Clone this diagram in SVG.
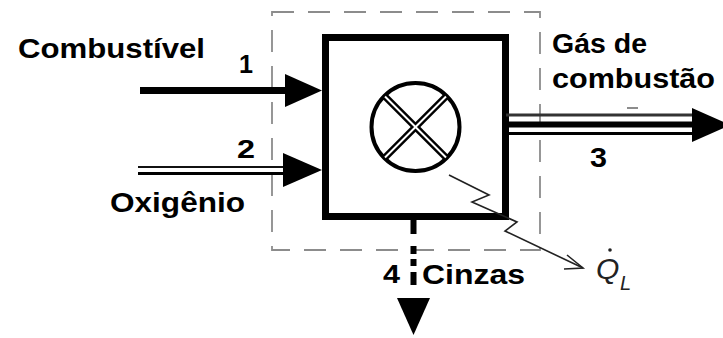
<svg xmlns="http://www.w3.org/2000/svg" width="723" height="338" viewBox="0 0 723 338">
<style>
.lbl{font-family:"Liberation Sans",Arial,sans-serif;font-weight:bold;font-size:28px;fill:#000}
.num{font-family:"Liberation Sans",Arial,sans-serif;font-weight:bold;font-size:26px;fill:#000}
.q{font-family:"Liberation Sans",Arial,sans-serif;font-style:italic;fill:#222}
.ah{fill:#000;stroke:none}
</style>
<rect width="723" height="338" fill="#fff"/>
<g id="boundary">
<rect x="272" y="12" width="268" height="238" fill="none" stroke="#8c8c8c" stroke-width="1.8" stroke-dasharray="22 14"/>
</g>
<g id="reactor">
<rect x="325.5" y="37.5" width="180" height="179" fill="#fff" stroke="#000" stroke-width="7"/>
<circle cx="415.5" cy="127" r="44" fill="none" stroke="#000" stroke-width="4"/>
<g stroke-linecap="butt">
<line x1="384.4" y1="95.9" x2="446.6" y2="158.1" stroke="#000" stroke-width="7"/>
<line x1="446.6" y1="95.9" x2="384.4" y2="158.1" stroke="#000" stroke-width="7"/>
<line x1="385" y1="96.5" x2="446" y2="157.5" stroke="#fff" stroke-width="2"/>
<line x1="446" y1="96.5" x2="385" y2="157.5" stroke="#fff" stroke-width="2"/>
</g>
</g>
<g id="connectors">
<g id="flow1">
<line x1="140" y1="90.5" x2="290" y2="90.5" stroke="#000" stroke-width="7"/>
<polygon class="ah" points="285,74 285,107 322,90.5"/>
</g>
<g id="flow2">
<line x1="138" y1="167" x2="288" y2="167" stroke="#111" stroke-width="2"/>
<line x1="138" y1="173.5" x2="288" y2="173.5" stroke="#000" stroke-width="3"/>
<polygon class="ah" points="283,153 283,187 322,170"/>
</g>
<g id="flow3">
<line x1="506" y1="115" x2="694" y2="115" stroke="#333" stroke-width="3"/>
<line x1="506" y1="124.5" x2="694" y2="124.5" stroke="#000" stroke-width="6"/>
<line x1="506" y1="133.5" x2="694" y2="133.5" stroke="#000" stroke-width="3"/>
<polygon class="ah" points="692,108 692,142 730,125"/>
<line x1="627" y1="108" x2="638" y2="108" stroke="#666" stroke-width="1.5"/>
</g>
<g id="flow4">
<line x1="413.5" y1="220" x2="413.5" y2="285" stroke="#000" stroke-width="6" stroke-dasharray="14 12 8 5 7 6 13"/>
<polygon class="ah" points="397,298 430,298 413.5,335"/>
</g>
<g id="heat">
<path d="M449,175 L489,195 L472,202 L517,222 L505,231 L583,268" fill="none" stroke="#222" stroke-width="1.6" stroke-linejoin="miter"/>
<path d="M567,255 L583,268 L564,269" fill="none" stroke="#222" stroke-width="1.6"/>
</g>
</g>
<g id="labels">
<text class="lbl" x="18" y="58" textLength="187" lengthAdjust="spacingAndGlyphs">Combustível</text>
<text class="lbl" x="110" y="212" textLength="135" lengthAdjust="spacingAndGlyphs">Oxigênio</text>
<text class="lbl" x="552" y="53" textLength="95" lengthAdjust="spacingAndGlyphs">Gás de</text>
<text class="lbl" x="552" y="88" textLength="163" lengthAdjust="spacingAndGlyphs">combustão</text>
<text class="lbl" x="422" y="284" textLength="103" lengthAdjust="spacingAndGlyphs">Cinzas</text>
<text class="num" x="239" y="73" textLength="14" lengthAdjust="spacingAndGlyphs">1</text>
<text class="num" x="237" y="158" textLength="18" lengthAdjust="spacingAndGlyphs">2</text>
<text class="lbl" x="590" y="167" textLength="17" lengthAdjust="spacingAndGlyphs">3</text>
<text class="num" x="383" y="283" textLength="17" lengthAdjust="spacingAndGlyphs">4</text>
<text class="q" x="596" y="279" font-size="30">Q</text>
<circle cx="610" cy="250" r="1.8" fill="#222"/>
<text class="q" x="620" y="290" font-size="20">L</text>
</g>
</svg>
